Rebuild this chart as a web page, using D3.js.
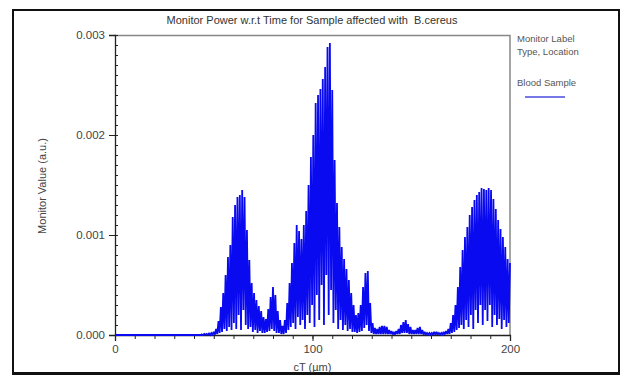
<!DOCTYPE html>
<html>
<head>
<meta charset="utf-8">
<script src="https://cdn.jsdelivr.net/npm/d3@7"></script>
<style>
  body { margin: 0; background: #fff; }
  text { font-family: "Liberation Sans", Arial, sans-serif; }
</style>
</head>
<body>
<div id="chart"></div>
<script>
const width = 623;
const height = 378;
const margin = { top: 35, right: 113, bottom: 43, left: 115 };

const title = "Monitor Power w.r.t Time for Sample affected with  B.cereus";
const xLabel = "cT (\u00b5m)";
const yLabel = "Monitor Value (a.u.)";
const legendLines = ["Monitor Label", "Type, Location"];
const seriesName = "Blood Sample";

const xTicks = [0, 100, 200];
const yTicks = [0, 0.001, 0.002, 0.003];

// flat lead-in before the signal starts
const leadX = [0, 44];
const leadY = [0, 0];

// sampled signal: peaks at cT0 + k*step, troughs half way between (x1e-5 a.u.)
const cT0 = 44;
const cTStep = 1.2;
const unit = 1e-5;
const peakVals = [
  0.5, 1, 1, 1.5, 2, 3, 6, 14, 28, 42,
  60, 78, 90, 118, 130, 138, 140, 145, 138, 105,
  75, 52, 42, 35, 29, 24, 18, 16, 26, 38,
  48, 40, 24, 15, 9, 15, 32, 52, 72, 92,
  110, 104, 96, 110, 124, 150, 178, 200, 232, 240,
  246, 256, 268, 288, 292, 245, 175, 132, 108, 88,
  76, 66, 55, 42, 30, 20, 22, 30, 48, 62,
  64, 32, 12, 7, 6, 8, 9, 9, 8, 5,
  4, 3, 4, 6, 10, 13, 15, 11, 8, 5,
  5, 7, 8, 5, 3, 2, 2, 2, 3, 3,
  2, 2, 3, 4, 6, 12, 20, 30, 48, 68,
  85, 98, 108, 120, 128, 135, 140, 143, 147, 146,
  145, 147, 145, 136, 126, 115, 106, 98, 88, 76,
  72
];
const troughVals = [
  0, 0, 0, 0, 0.5, 0.5, 1, 2, 3, 6,
  4, 8, 5, 12, 6, 20, 5, 25, 10, 6,
  8, 3, 5, 2, 4, 2, 2, 3, 4, 6,
  4, 2, 2, 1, 1, 2, 5, 8, 12, 6,
  18, 10, 15, 6, 20, 12, 30, 8, 40, 15,
  50, 10, 60, 20, 45, 12, 25, 6, 15, 5,
  10, 4, 6, 3, 3, 2, 3, 4, 7, 10,
  4, 2, 1, 1, 1, 1, 1, 1, 1, 1,
  0.5, 0.5, 1, 1, 2, 2, 2, 1, 1, 1,
  1, 1, 1, 0.5, 0.5, 0.5, 0.5, 0.5, 0.5, 0.5,
  0.5, 0.5, 0.5, 1, 1, 2, 3, 5, 7, 10,
  6, 15, 8, 20, 6, 25, 12, 30, 10, 25,
  14, 30, 8, 20, 10, 16, 6, 15, 8, 12
];

const points = leadX.map((d, i) => [d, leadY[i]]);
peakVals.forEach(function(p, k) {
  points.push([cT0 + k * cTStep, p * unit]);
  if (k < troughVals.length) {
    points.push([cT0 + (k + 0.5) * cTStep, troughVals[k] * unit]);
  }
});

const svg = d3
  .select("#chart")
  .append("svg")
  .attr("width", width)
  .attr("height", height);

// outer frame
svg
  .append("rect")
  .attr("x", 13)
  .attr("y", 10)
  .attr("width", 606)
  .attr("height", 363)
  .attr("fill", "none")
  .attr("stroke", "#111")
  .attr("stroke-width", 2);
svg
  .append("line")
  .attr("x1", 12)
  .attr("x2", 620)
  .attr("y1", 374)
  .attr("y2", 374)
  .attr("stroke", "#111")
  .attr("stroke-width", 2);

const innerW = width - margin.left - margin.right;
const innerH = height - margin.top - margin.bottom;

const x = d3.scaleLinear().domain([0, 200]).range([0, innerW]);
const y = d3.scaleLinear().domain([0, 0.003]).range([innerH, 0]);

const g = svg
  .append("g")
  .attr("transform", `translate(${margin.left}, ${margin.top})`);

// top and right frame of the plot
g.append("path")
  .attr("d", `M0,0.5H${innerW}V${innerH}`)
  .attr("fill", "none")
  .attr("stroke", "#888")
  .attr("stroke-width", 1.5);

const axisColor = "#222";
const labelColor = "#444";

// x axis
g.append("g")
  .attr("transform", `translate(0, ${innerH})`)
  .call(d3.axisBottom(x).tickValues(xTicks).tickSize(6).tickPadding(4));
g.append("g")
  .attr("transform", `translate(0, ${innerH})`)
  .call(d3.axisBottom(x).ticks(20).tickSize(4).tickFormat(""))
  .call(a => a.select(".domain").remove());

// y axis
g.append("g").call(
  d3
    .axisLeft(y)
    .tickValues(yTicks)
    .tickFormat(d3.format(".3f"))
    .tickSize(6)
    .tickPadding(4)
);
g.append("g")
  .call(d3.axisRight(y).ticks(30).tickSize(3).tickFormat(""))
  .call(a => a.select(".domain").remove());

g.selectAll(".tick line").attr("stroke", axisColor);
g.selectAll(".domain").attr("stroke", axisColor).attr("stroke-width", 1.3);
g.selectAll(".tick text")
  .attr("fill", labelColor)
  .style("font-size", "11.5px")
  .style("font-family", "'Liberation Sans', Arial, sans-serif");

// signal
const line = d3
  .line()
  .x(d => x(d[0]))
  .y(d => y(d[1]));

g.append("path")
  .datum(points)
  .attr("d", line)
  .attr("fill", "none")
  .attr("stroke", "#0a0af0")
  .attr("stroke-width", 1.8)
  .attr("stroke-linejoin", "miter")
  .attr("stroke-miterlimit", 2);

// title
svg
  .append("text")
  .attr("x", 312)
  .attr("y", 24)
  .attr("text-anchor", "middle")
  .attr("fill", "#333")
  .style("font-size", "11px")
  .style("white-space", "pre")
  .text(title);

// axis labels
svg
  .append("text")
  .attr("x", margin.left + innerW / 2)
  .attr("y", 371)
  .attr("text-anchor", "middle")
  .attr("fill", labelColor)
  .style("font-size", "11px")
  .text(xLabel);

svg
  .append("text")
  .attr("transform", `translate(46, 186) rotate(-90)`)
  .attr("text-anchor", "middle")
  .attr("fill", labelColor)
  .style("font-size", "11px")
  .text(yLabel);

// legend
const legend = svg.append("g").attr("transform", "translate(517, 0)");
legend
  .selectAll("text.head")
  .data(legendLines)
  .enter()
  .append("text")
  .attr("class", "head")
  .attr("x", 0)
  .attr("y", (d, i) => 42 + i * 13)
  .attr("fill", "#555")
  .style("font-size", "9.5px")
  .text(d => d);
legend
  .append("text")
  .attr("x", 0)
  .attr("y", 86)
  .attr("fill", "#555")
  .style("font-size", "9.5px")
  .text(seriesName);
legend
  .append("line")
  .attr("x1", 8)
  .attr("x2", 48)
  .attr("y1", 97)
  .attr("y2", 97)
  .attr("stroke", "#4a4ae0")
  .attr("stroke-width", 1.5);
</script>
</body>
</html>
